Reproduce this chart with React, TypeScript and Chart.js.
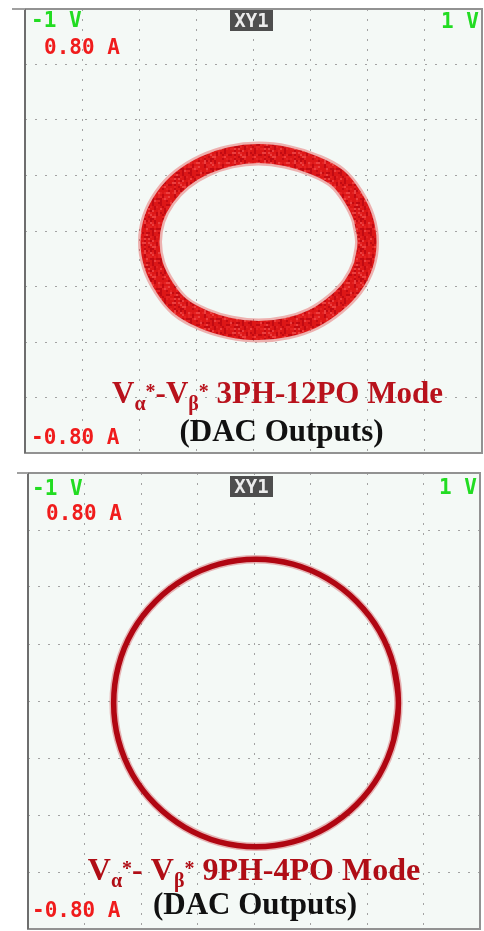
import React, { useEffect, useRef } from 'react';
import { Chart, registerables } from 'chart.js';

Chart.register(...registerables);

// ---------------- data ----------------
const X_MIN = -1;
const X_MAX = 1;
const X_STEP = 0.25;
const Y_MIN = -0.8;
const Y_MAX = 0.8;
const Y_STEP = 0.2;

const X_TICK_LABELS = ['-1 V', '1 V'];
const Y_TICK_LABELS = ['0.80 A', '-0.80 A'];
const CHANNEL_TAG = 'XY1';

// 3PH-12PO trace (x in V, y in A), read around the ring every 15 degrees
const TRACE_A_X = [0.497, 0.481, 0.435, 0.366, 0.262, 0.145, 0.022, -0.101, -0.216, -0.314, -0.389, -0.437, -0.453, -0.437, -0.39, -0.322, -0.22, -0.101, 0.022, 0.145, 0.26, 0.356, 0.432, 0.481];
const TRACE_A_Y = [-0.04, 0.043, 0.122, 0.192, 0.238, 0.268, 0.279, 0.268, 0.236, 0.186, 0.12, 0.043, -0.04, -0.123, -0.202, -0.27, -0.318, -0.348, -0.359, -0.348, -0.316, -0.264, -0.2, -0.123];

// 9PH-4PO trace
const TRACE_B_X = [0.639, 0.618, 0.555, 0.454, 0.324, 0.172, 0.009, -0.154, -0.306, -0.436, -0.537, -0.6, -0.621, -0.6, -0.537, -0.436, -0.306, -0.154, 0.009, 0.172, 0.324, 0.454, 0.555, 0.618];
const TRACE_B_Y = [-0.007, 0.123, 0.245, 0.349, 0.429, 0.48, 0.497, 0.48, 0.429, 0.349, 0.245, 0.123, -0.007, -0.137, -0.259, -0.363, -0.443, -0.494, -0.511, -0.494, -0.443, -0.363, -0.259, -0.137];

const TITLE_A_PARTS = ['V', 'α', '*', '-', 'V', 'β', '*', ' 3PH-12PO Mode'];
const TITLE_B_PARTS = ['V', 'α', '*', '- ', 'V', 'β', '*', ' 9PH-4PO Mode'];
const TITLE_ROLES = ['base', 'sub', 'sup', 'base', 'base', 'sub', 'sup', 'base'];
const SUBTITLE = '(DAC Outputs)';

// ---------------- drawing helpers ----------------
type Pos = { x: number; y: number };
type PanelSpec = {
  top: number;
  height: number;
  pad: { left: number; top: number; right: number; bottom: number };
  xs: number[];
  ys: number[];
  kind: 'noisy' | 'clean';
  titleParts: string[];
  titleColor: string;
  titleSize: number;
  titleCx: number;
  titleBase: number;
  subCx: number;
  subBase: number;
  subSize: number;
  leadX: number;
  xMinPos: Pos;
  xMaxPos: Pos;
  yMaxPos: Pos;
  yMinPos: Pos;
  tagTop: number;
};

function makeSpeckle(ctx: CanvasRenderingContext2D): CanvasPattern | string {
  const c = document.createElement('canvas');
  c.width = 30;
  c.height = 30;
  const g = c.getContext('2d');
  if (!g) return '#dc1a1a';
  for (let j = 0; j < 15; j++) {
    for (let i = 0; i < 15; i++) {
      let h = Math.imul(i * 374761393 + j * 668265263, 1274126177);
      h ^= h >>> 13;
      h = Math.imul(h, 1597334677);
      h ^= h >>> 16;
      const v = ((h >>> 0) % 1000) / 1000;
      g.fillStyle = v < 0.25 ? '#b4000c' : v < 0.7 ? '#dc1414' : v < 0.92 ? '#e82424' : '#f05050';
      g.fillRect(i * 2, j * 2, 2, 2);
    }
  }
  return ctx.createPattern(c, 'repeat') || '#dc1a1a';
}

function drawRich(ctx: CanvasRenderingContext2D, parts: string[], roles: string[], size: number, cx: number, base: number, color: string) {
  const sizes = roles.map((r) => (r === 'base' ? size : Math.round(size * 0.64)));
  const dys = roles.map((r) => (r === 'sub' ? size * 0.21 : r === 'sup' ? -size * 0.16 : 0));
  const widths = parts.map((p, i) => {
    ctx.font = `bold ${sizes[i]}px "Liberation Serif", "DejaVu Serif", serif`;
    return ctx.measureText(p).width;
  });
  const total = widths.reduce((a, b) => a + b, 0);
  let x = cx - total / 2;
  ctx.fillStyle = color;
  ctx.textAlign = 'left';
  ctx.textBaseline = 'alphabetic';
  parts.forEach((p, i) => {
    ctx.font = `bold ${sizes[i]}px "Liberation Serif", "DejaVu Serif", serif`;
    ctx.fillText(p, x, base + dys[i]);
    x += widths[i];
  });
}

function ScopePanel({ spec }: { spec: PanelSpec }) {
  const ref = useRef<HTMLCanvasElement | null>(null);
  useEffect(() => {
    const canvas = ref.current;
    if (!canvas) return;
    const ctx2d = canvas.getContext('2d');
    if (!ctx2d) return;
    const pts = spec.xs.map((x, i) => ({ x, y: spec.ys[i] }));
    const n = pts.length;
    // closed loop: overlap the ends so the smoothed curve has no kink at the join
    const loop = [pts[n - 1]].concat(pts, [pts[0], pts[1]]);
    const off = spec.top;

    const datasets: any[] =
      spec.kind === 'noisy'
        ? [
            { data: loop, borderColor: 'rgba(226,30,30,0.33)', borderWidth: 24, tension: 0.4 },
            { data: loop, borderColor: makeSpeckle(ctx2d), borderWidth: 19, tension: 0.4 },
          ]
        : [
            { data: loop, borderColor: 'rgba(200,20,30,0.3)', borderWidth: 8.5, tension: 0.4 },
            { data: loop, borderColor: '#a6000e', borderWidth: 5.5, tension: 0.4 },
          ];

    const scopePlugin = {
      id: 'scopeDecor',
      beforeDraw(chart: any) {
        const { ctx, chartArea: a } = chart;
        ctx.save();
        ctx.fillStyle = '#f4f9f6';
        ctx.fillRect(a.left, a.top, a.right - a.left, a.bottom - a.top);
        ctx.restore();
      },
      afterDraw(chart: any) {
        const { ctx, chartArea: a } = chart;
        ctx.save();
        // frame
        ctx.strokeStyle = '#929292';
        ctx.lineWidth = 2;
        ctx.strokeRect(a.left, a.top, a.right - a.left, a.bottom - a.top);
        ctx.strokeStyle = '#6e6e6e';
        ctx.beginPath();
        ctx.moveTo(a.left, a.top);
        ctx.lineTo(a.left, a.bottom);
        ctx.stroke();
        ctx.strokeStyle = '#a0a0a0';
        ctx.beginPath();
        ctx.moveTo(spec.leadX, a.top);
        ctx.lineTo(a.left, a.top);
        ctx.stroke();

        // scale labels
        ctx.font = 'bold 21px "DejaVu Sans Mono", monospace';
        ctx.textBaseline = 'alphabetic';
        ctx.textAlign = 'left';
        ctx.fillStyle = '#22dc22';
        ctx.fillText(X_TICK_LABELS[0], spec.xMinPos.x, spec.xMinPos.y - off);
        ctx.fillText(X_TICK_LABELS[1], spec.xMaxPos.x, spec.xMaxPos.y - off);
        ctx.fillStyle = '#f01c1c';
        ctx.fillText(Y_TICK_LABELS[0], spec.yMaxPos.x, spec.yMaxPos.y - off);
        ctx.fillText(Y_TICK_LABELS[1], spec.yMinPos.x, spec.yMinPos.y - off);

        // channel tag
        ctx.fillStyle = '#4e4e4e';
        ctx.fillRect(230, spec.tagTop - off, 43, 21);
        ctx.fillStyle = '#ececec';
        ctx.font = 'bold 19px "DejaVu Sans Mono", monospace';
        ctx.textAlign = 'center';
        ctx.fillText(CHANNEL_TAG, 251.5, spec.tagTop - off + 17);

        // titles
        drawRich(ctx, spec.titleParts, TITLE_ROLES, spec.titleSize, spec.titleCx, spec.titleBase - off, spec.titleColor);
        ctx.font = `bold ${spec.subSize}px "Liberation Serif", "DejaVu Serif", serif`;
        ctx.fillStyle = '#111111';
        ctx.textAlign = 'center';
        ctx.fillText(SUBTITLE, spec.subCx, spec.subBase - off);
        ctx.restore();
      },
    };

    const gridCommon = {
      color: '#a3a3a3',
      lineWidth: 1,
      drawTicks: false,
    };

    const chart = new Chart(canvas, {
      type: 'scatter',
      data: { datasets },
      options: {
        animation: false,
        responsive: false,
        events: [],
        layout: { padding: spec.pad },
        elements: { point: { radius: 0 }, line: { capBezierPoints: true } },
        datasets: { scatter: { showLine: true, pointRadius: 0 } } as any,
        plugins: { legend: { display: false }, tooltip: { enabled: false }, title: { display: false } },
        scales: {
          x: {
            type: 'linear',
            min: X_MIN,
            max: X_MAX,
            ticks: { display: false, stepSize: X_STEP },
            grid: gridCommon,
            border: { display: false, dash: [2, 8] },
          },
          y: {
            type: 'linear',
            min: Y_MIN,
            max: Y_MAX,
            ticks: { display: false, stepSize: Y_STEP },
            grid: gridCommon,
            border: { display: false, dash: [2, 8] },
          },
        },
      },
      plugins: [scopePlugin],
    } as any);
    return () => chart.destroy();
  }, [spec]);

  return (
    <canvas
      ref={ref}
      width={484}
      height={spec.height}
      style={{ position: 'absolute', left: 0, top: spec.top, width: 484, height: spec.height }}
    />
  );
}

const PANEL_A: PanelSpec = {
  top: 0,
  height: 462,
  pad: { left: 25, top: 9, right: 2, bottom: 9 },
  xs: TRACE_A_X,
  ys: TRACE_A_Y,
  kind: 'noisy',
  titleParts: TITLE_A_PARTS,
  titleColor: '#b8121c',
  titleSize: 31,
  titleCx: 277.5,
  titleBase: 403,
  subCx: 281.5,
  subBase: 441,
  subSize: 31,
  leadX: 12,
  xMinPos: { x: 31, y: 27 },
  xMaxPos: { x: 441, y: 28 },
  yMaxPos: { x: 44, y: 54 },
  yMinPos: { x: 31, y: 444 },
  tagTop: 10,
};

const PANEL_B: PanelSpec = {
  top: 462,
  height: 469,
  pad: { left: 28, top: 11, right: 4, bottom: 2 },
  xs: TRACE_B_X,
  ys: TRACE_B_Y,
  kind: 'clean',
  titleParts: TITLE_B_PARTS,
  titleColor: '#b00e16',
  titleSize: 32,
  titleCx: 254,
  titleBase: 880,
  subCx: 255,
  subBase: 914,
  subSize: 31,
  leadX: 17,
  xMinPos: { x: 32, y: 495 },
  xMaxPos: { x: 439, y: 494 },
  yMaxPos: { x: 46, y: 520 },
  yMinPos: { x: 32, y: 917 },
  tagTop: 476,
};

export default function App() {
  return (
    <div style={{ position: 'absolute', left: 0, top: 0, width: 484, height: 931, background: '#ffffff' }}>
      <ScopePanel spec={PANEL_A} />
      <ScopePanel spec={PANEL_B} />
    </div>
  );
}
